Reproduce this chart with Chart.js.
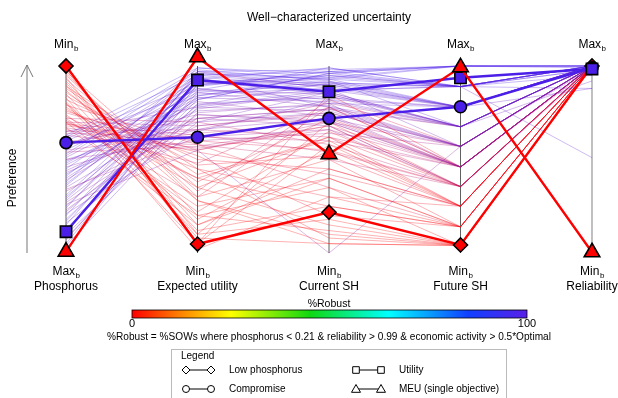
<!DOCTYPE html>
<html>
<head>
<meta charset="utf-8">
<script src="https://cdn.jsdelivr.net/npm/chart.js@4.4.1/dist/chart.umd.min.js"></script>
<style>
  html, body { margin: 0; padding: 0; background: #fff; }
</style>
</head>
<body>
<canvas id="pc" width="618" height="398"></canvas>
<script>
// ===== Data (preference scale: 0 = bottom of axis, 1 = top) =====
const axisNames = ['Phosphorus', 'Expected utility', 'Current SH', 'Future SH', 'Reliability'];
const topLabels = ['Min', 'Max', 'Max', 'Max', 'Max'];
const bottomLabels = ['Max', 'Min', 'Min', 'Min', 'Min'];

// highlighted solutions
const lowPhosphorus = [1.0, 0.048, 0.218, 0.043, 1.0];
const compromise = [0.59, 0.619, 0.72, 0.782, 0.99];
const utility = [0.114, 0.925, 0.862, 0.937, 0.984];
const meu = [0.007, 1.047, 0.529, 0.993, 0.004];

// background solutions (sampled from the plot) and their %Robust
const bgLines = [
  [0.62, 0.95, 0.97, 0.89, 1.0], [0.55, 0.90, 0.93, 0.78, 1.0], [0.48, 0.86, 0.90, 0.89, 1.0],
  [0.42, 0.82, 0.96, 1.0, 1.0], [0.36, 0.92, 0.85, 0.675, 1.0], [0.30, 0.88, 0.80, 0.78, 0.99],
  [0.24, 0.97, 0.88, 0.57, 1.0], [0.18, 0.84, 0.92, 0.675, 1.0], [0.12, 0.93, 0.99, 0.89, 0.98],
  [0.08, 0.80, 0.83, 0.78, 1.0], [0.65, 0.78, 0.76, 0.57, 1.0], [0.58, 0.74, 0.70, 0.46, 1.0],
  [0.50, 0.70, 0.86, 0.675, 1.0], [0.44, 0.76, 0.79, 0.57, 0.99], [0.38, 0.99, 0.94, 1.0, 1.0],
  [0.33, 0.68, 0.74, 0.46, 1.0], [0.27, 0.72, 0.68, 0.355, 1.0], [0.21, 0.65, 0.82, 0.78, 0.88],
  [0.15, 0.96, 0.91, 0.89, 1.0], [0.05, 0.90, 0.97, 1.0, 1.0], [0.60, 0.87, 0.99, 0.89, 1.0],
  [0.52, 0.94, 0.78, 0.675, 1.0], [0.46, 0.66, 0.72, 0.57, 1.0], [0.40, 0.85, 0.88, 0.78, 1.0],
  [0.29, 0.91, 0.95, 0.89, 0.88], [0.22, 0.79, 0.84, 0.675, 1.0], [0.10, 0.75, 0.80, 0.46, 1.0],
  [0.56, 0.98, 0.92, 0.78, 1.0], [0.34, 0.62, 0.66, 0.355, 0.99], [0.16, 0.70, 0.75, 0.57, 1.0],
  [0.47, 0.83, 0.87, 0.89, 0.51], [0.26, 0.55, 0.0, 0.57, 1.0],
  [0.63, 0.99, 0.96, 1.0, 1.0], [0.61, 0.91, 0.90, 0.78, 1.0], [0.57, 0.84, 0.95, 0.89, 1.0],
  [0.53, 0.97, 0.98, 1.0, 0.99], [0.51, 0.88, 0.82, 0.675, 1.0], [0.49, 0.79, 0.91, 0.78, 1.0],
  [0.45, 0.93, 0.87, 0.89, 1.0], [0.43, 0.72, 0.77, 0.57, 1.0], [0.41, 0.96, 0.93, 0.89, 0.95],
  [0.39, 0.81, 0.73, 0.46, 1.0], [0.37, 0.89, 0.97, 1.0, 1.0], [0.35, 0.77, 0.86, 0.675, 1.0],
  [0.31, 0.94, 0.89, 0.78, 1.0], [0.28, 0.83, 0.81, 0.675, 0.92], [0.25, 0.90, 0.94, 0.89, 1.0],
  [0.23, 0.74, 0.71, 0.46, 1.0], [0.20, 0.95, 0.90, 0.78, 1.0], [0.17, 0.87, 0.85, 0.675, 1.0],
  [0.13, 0.82, 0.96, 0.89, 1.0], [0.11, 0.97, 0.93, 1.0, 1.0], [0.07, 0.86, 0.78, 0.57, 1.0],
  [0.04, 0.78, 0.87, 0.78, 1.0], [0.02, 0.92, 0.91, 0.89, 0.98],
  [0.95, 0.30, 0.50, 0.14, 1.0], [0.92, 0.20, 0.35, 0.04, 1.0], [0.88, 0.42, 0.60, 0.25, 1.0],
  [0.85, 0.12, 0.25, 0.14, 1.0], [0.82, 0.50, 0.45, 0.25, 1.0], [0.78, 0.35, 0.15, 0.04, 1.0],
  [0.75, 0.55, 0.68, 0.355, 1.0], [0.72, 0.25, 0.40, 0.14, 1.0], [0.70, 0.45, 0.30, 0.25, 1.0],
  [0.68, 0.60, 0.55, 0.355, 1.0], [0.90, 0.08, 0.05, 0.04, 1.0], [0.86, 0.38, 0.72, 0.46, 1.0],
  [0.80, 0.18, 0.55, 0.25, 1.0], [0.76, 0.52, 0.20, 0.14, 1.0], [0.73, 0.40, 0.62, 0.355, 1.0],
  [0.96, 0.28, 0.10, 0.04, 1.0], [0.66, 0.48, 0.78, 0.46, 1.0], [0.83, 0.02, 0.30, 0.14, 1.0],
  [0.93, 0.33, 0.82, 0.57, 1.0], [0.70, 0.15, 0.45, 0.25, 1.0], [0.79, 0.58, 0.35, 0.14, 1.0],
  [0.89, 0.45, 0.08, 0.04, 1.0], [0.74, 0.22, 0.65, 0.355, 1.0], [0.98, 0.10, 0.18, 0.04, 1.0],
  [0.80, 0.05, 0.85, 0.46, 1.0],
  [0.97, 0.35, 0.62, 0.25, 1.0], [0.91, 0.15, 0.40, 0.14, 1.0], [0.87, 0.28, 0.05, 0.04, 1.0],
  [0.84, 0.47, 0.52, 0.25, 1.0], [0.81, 0.10, 0.70, 0.355, 1.0], [0.77, 0.40, 0.25, 0.14, 1.0],
  [0.71, 0.30, 0.78, 0.46, 1.0], [0.69, 0.54, 0.42, 0.25, 1.0], [0.94, 0.05, 0.58, 0.25, 1.0],
  [0.67, 0.20, 0.12, 0.04, 1.0],
  [0.64, 0.62, 0.60, 0.46, 1.0], [0.70, 0.68, 0.75, 0.57, 1.0], [0.60, 0.58, 0.50, 0.355, 1.0],
  [0.55, 0.64, 0.70, 0.46, 1.0], [0.72, 0.70, 0.58, 0.355, 1.0], [0.50, 0.60, 0.64, 0.57, 1.0],
  [0.67, 0.56, 0.66, 0.46, 1.0], [0.58, 0.66, 0.80, 0.675, 1.0],
  [0.63, 0.55, 0.70, 0.57, 1.0], [0.65, 0.66, 0.62, 0.46, 1.0], [0.59, 0.72, 0.77, 0.675, 1.0],
  [0.69, 0.63, 0.54, 0.355, 1.0], [0.54, 0.57, 0.68, 0.46, 0.99]
];
const bgRobust = [
  100, 95, 98, 100, 90, 92, 85, 95, 100, 90, 80, 75, 85, 82, 100, 70, 72, 88, 97, 100,
  96, 88, 78, 93, 96, 86, 80, 99, 68, 83, 90, 75,
  100, 94, 97, 100, 88, 92, 97, 80, 98, 76, 100, 86, 94, 87, 97, 74, 93, 88, 97, 100, 82, 90, 96,
  10, 5, 15, 8, 20, 3, 30, 10, 18, 35, 2, 25, 8, 12, 22, 5, 40, 4, 35, 12, 25, 6, 15, 3, 10,
  12, 6, 3, 20, 15, 8, 28, 22, 6, 4,
  55, 60, 50, 58, 48, 62, 52, 65,
  58, 52, 66, 45, 55
];

const colorbarMin = 0;
const colorbarMax = 100;
const robustNote = '%Robust = %SOWs where phosphorus < 0.21 & reliability > 0.99 & economic activity > 0.5*Optimal';

const RED = '#ff0000';
const BLUE = '#4b1fe8';
const FONT = '"Liberation Sans", Arial, Helvetica, sans-serif';

// red (0 %) -> purple -> blue (100 %)
function robustColor(r, a) {
  const t = r / 100;
  const R = Math.round(255 - 180 * Math.pow(t, 1.5));
  const G = Math.round(31 * t);
  const B = Math.round(232 * Math.pow(t, 1.2));
  return `rgba(${R},${G},${B},${a})`;
}

const datasets = bgLines.map((vals, i) => ({
  data: vals,
  borderColor: robustColor(bgRobust[i], 0.38),
  borderWidth: 0.8,
  pointRadius: 0,
  order: 10,
  clip: false
}));

function keyLine(vals, color, style, radius, order) {
  return {
    data: vals,
    borderColor: color,
    borderWidth: 2.4,
    pointStyle: style,
    pointRadius: radius,
    pointBackgroundColor: color,
    pointBorderColor: '#000',
    pointBorderWidth: 1.6,
    order: order,
    clip: false
  };
}
datasets.push(keyLine(lowPhosphorus, RED, 'rectRot', 7, 4));
datasets.push(keyLine(compromise, BLUE, 'circle', 6, 3));
datasets.push(keyLine(utility, BLUE, 'rect', 8, 2));
datasets.push(keyLine(meu, RED, 'triangle', 9, 1));

// ===== drawing helpers =====
function subLabel(ctx, main, sub, cx, cy) {
  ctx.font = '12px ' + FONT;
  const w1 = ctx.measureText(main).width;
  ctx.font = '8px ' + FONT;
  const w2 = ctx.measureText(sub).width;
  const x0 = cx - (w1 + w2) / 2;
  ctx.textAlign = 'left';
  ctx.textBaseline = 'middle';
  ctx.font = '12px ' + FONT;
  ctx.fillText(main, x0, cy);
  ctx.font = '8px ' + FONT;
  ctx.fillText(sub, x0 + w1 + 0.5, cy + 4);
}

function openMarker(ctx, style, x, y) {
  ctx.beginPath();
  if (style === 'diamond') {
    ctx.moveTo(x, y - 4); ctx.lineTo(x + 4, y); ctx.lineTo(x, y + 4); ctx.lineTo(x - 4, y); ctx.closePath();
  } else if (style === 'circle') {
    ctx.arc(x, y, 3.5, 0, Math.PI * 2);
  } else if (style === 'square') {
    ctx.rect(x - 3.3, y - 3.3, 6.6, 6.6);
  } else {
    ctx.moveTo(x, y - 4.5); ctx.lineTo(x + 4.5, y + 3.3); ctx.lineTo(x - 4.5, y + 3.3); ctx.closePath();
  }
  ctx.fillStyle = '#fff';
  ctx.fill();
  ctx.stroke();
}

const decor = {
  id: 'decor',
  beforeDatasetsDraw(chart) {
    const ctx = chart.ctx;
    const xs = chart.scales.x, ys = chart.scales.y;
    ctx.save();
    axisNames.forEach((n, i) => {
      const x = xs.getPixelForValue(i);
      ctx.strokeStyle = i === 4 ? '#b0b0b0' : '#606060';
      ctx.lineWidth = i === 4 ? 1.6 : 1;
      ctx.beginPath();
      ctx.moveTo(x, ys.getPixelForValue(0));
      ctx.lineTo(x, ys.getPixelForValue(1));
      ctx.stroke();
    });
    ctx.restore();
  },
  afterDraw(chart) {
    const ctx = chart.ctx;
    const xs = chart.scales.x, ys = chart.scales.y;
    ctx.save();
    ctx.fillStyle = '#000';

    // title
    ctx.font = '12px ' + FONT;
    ctx.textAlign = 'center';
    ctx.textBaseline = 'middle';
    ctx.fillText('Well\u2212characterized uncertainty', 329, 18);

    // axis labels
    axisNames.forEach((n, i) => {
      const x = xs.getPixelForValue(i);
      subLabel(ctx, topLabels[i], 'b', x, 45);
      subLabel(ctx, bottomLabels[i], 'b', x, 272);
      ctx.font = '12px ' + FONT;
      ctx.textAlign = 'center';
      ctx.textBaseline = 'middle';
      ctx.fillText(n, x, 287);
    });

    // preference arrow
    const yTop = ys.getPixelForValue(1), yBot = ys.getPixelForValue(0);
    ctx.strokeStyle = '#777';
    ctx.lineWidth = 1;
    ctx.beginPath();
    ctx.moveTo(27, yBot); ctx.lineTo(27, yTop - 1);
    ctx.moveTo(21, yTop + 11); ctx.lineTo(27, yTop - 1); ctx.lineTo(33, yTop + 11);
    ctx.stroke();
    ctx.save();
    ctx.translate(13, 178);
    ctx.rotate(-Math.PI / 2);
    ctx.font = '12px ' + FONT;
    ctx.textAlign = 'center';
    ctx.textBaseline = 'middle';
    ctx.fillText('Preference', 0, 0);
    ctx.restore();

    // colour bar
    const cbL = 132, cbR = 527, cbT = 310, cbB = 318;
    const g = ctx.createLinearGradient(cbL, 0, cbR, 0);
    g.addColorStop(0, '#ff0000');
    g.addColorStop(0.12, '#ff8000');
    g.addColorStop(0.25, '#ffff00');
    g.addColorStop(0.45, '#10d810');
    g.addColorStop(0.65, '#00ffff');
    g.addColorStop(0.85, '#1040ff');
    g.addColorStop(1, '#5a20e8');
    ctx.fillStyle = g;
    ctx.fillRect(cbL, cbT, cbR - cbL, cbB - cbT);
    ctx.strokeStyle = '#000';
    ctx.lineWidth = 0.8;
    ctx.strokeRect(cbL, cbT, cbR - cbL, cbB - cbT);
    ctx.fillStyle = '#000';
    ctx.font = '10.5px ' + FONT;
    ctx.textAlign = 'center';
    ctx.textBaseline = 'middle';
    ctx.fillText('%Robust', 329, 304);
    ctx.font = '11px ' + FONT;
    ctx.fillText(String(colorbarMin), cbL, 324);
    ctx.fillText(String(colorbarMax), cbR, 324);
    ctx.font = '10.1px ' + FONT;
    ctx.fillText(robustNote, 329, 337);

    // legend box
    ctx.strokeStyle = '#bbb';
    ctx.lineWidth = 1;
    ctx.strokeRect(171.5, 349.5, 335, 60);
    ctx.fillStyle = '#000';
    ctx.font = '10px ' + FONT;
    ctx.textAlign = 'left';
    ctx.fillText('Legend', 181, 356);
    const items = [
      ['diamond', 'Low phosphorus', 186, 370],
      ['circle', 'Compromise', 186, 389],
      ['square', 'Utility', 356, 370],
      ['triangle', 'MEU (single objective)', 356, 389]
    ];
    items.forEach(([st, label, x, y]) => {
      ctx.strokeStyle = '#000';
      ctx.lineWidth = 1;
      ctx.beginPath();
      ctx.moveTo(x, y); ctx.lineTo(x + 25, y);
      ctx.stroke();
      openMarker(ctx, st, x, y);
      openMarker(ctx, st, x + 25, y);
      ctx.fillStyle = '#000';
      ctx.font = '10px ' + FONT;
      ctx.textAlign = 'left';
      ctx.textBaseline = 'middle';
      ctx.fillText(label, x + 43, y);
    });
    ctx.restore();
  }
};

new Chart(document.getElementById('pc'), {
  type: 'line',
  data: { labels: axisNames, datasets: datasets },
  options: {
    responsive: false,
    animation: false,
    devicePixelRatio: 1,
    layout: { padding: { left: 66, right: 26, top: 66, bottom: 145 } },
    scales: {
      x: { type: 'category', offset: false, display: false },
      y: { min: 0, max: 1, display: false }
    },
    plugins: { legend: { display: false }, tooltip: { enabled: false } },
    elements: { line: { tension: 0 } }
  },
  plugins: [decor]
});
</script>
</body>
</html>
